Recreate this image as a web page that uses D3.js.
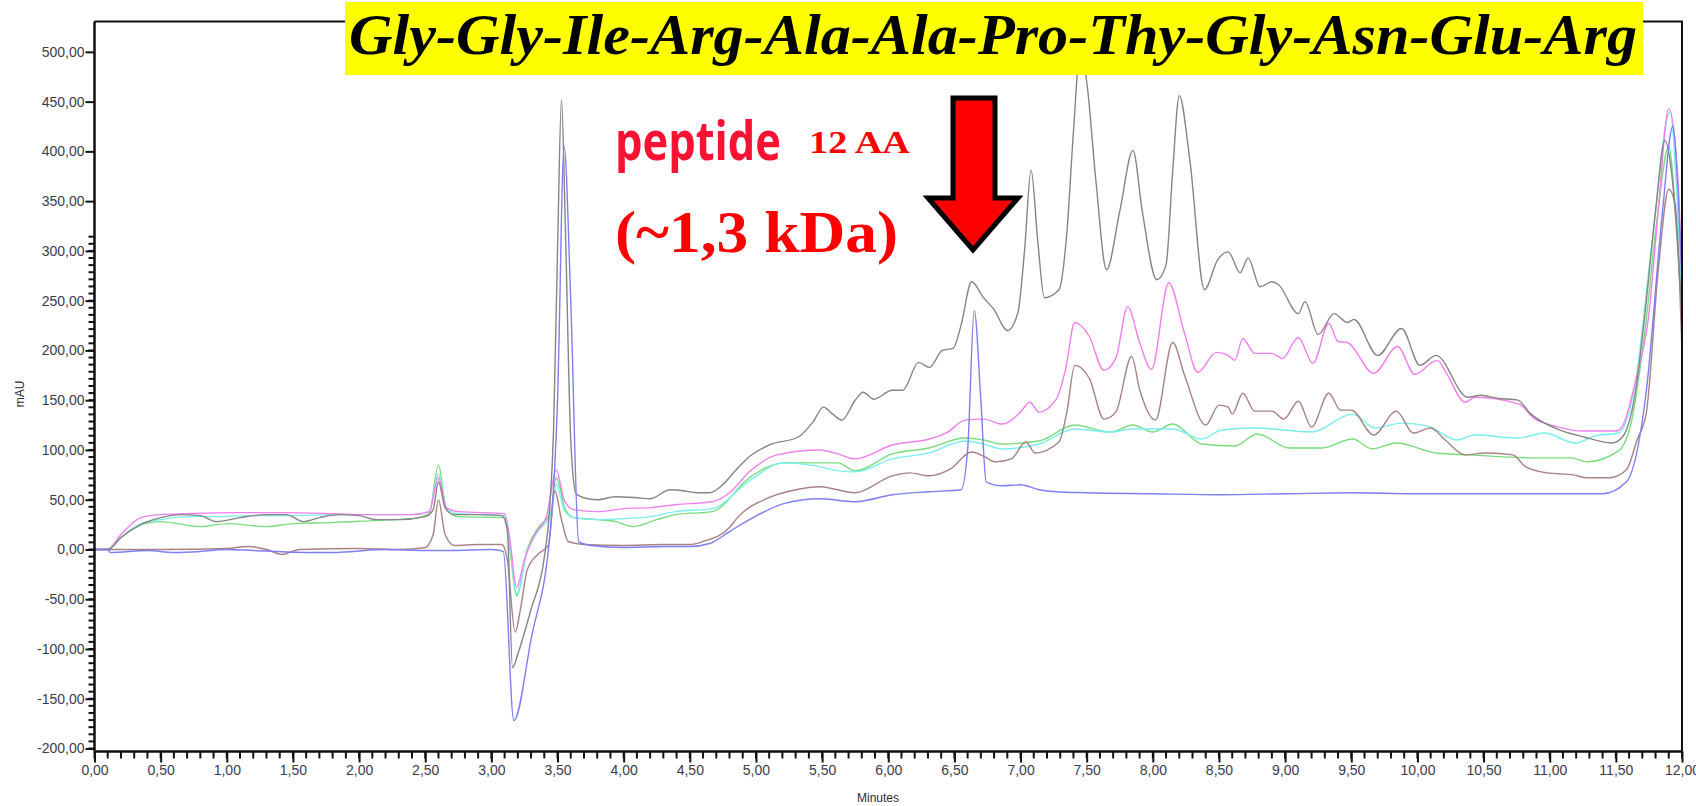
<!DOCTYPE html>
<html>
<head>
<meta charset="utf-8">
<script src="https://cdn.jsdelivr.net/npm/d3@7"></script>
<style>
  body { margin: 0; background: #fff; }
  svg { display: block; }
</style>
</head>
<body>
<div class="chart"></div>
<script>
// chart size and plot frame
const svgWidth = 1696;
const svgHeight = 806;
const frame = { left: 94.5, right: 1682, top: 21.5, bottom: 751.5 };

// axis ticks
const xTicks = d3.range(0, 12.01, 0.5);
const yTicks = d3.range(-200, 501, 50);

// series: [minutes, mAU]
const blackTrace = [[0,0],[0.1,0],[0.2,12],[0.35,25],[0.5,32],[0.65,35],[0.8,34],[0.92,28],[1.1,32],[1.3,35],[1.45,35],[1.58,28],[1.7,32],[1.85,35],[2.0,34],[2.13,30],[2.3,30],[2.5,33],[2.56,40],[2.6,68],[2.65,42],[2.72,35],[2.9,35],[3.08,34],[3.12,20],[3.16,-119],[3.2,-105],[3.3,-60],[3.4,-8],[3.44,40],[3.47,120],[3.5,300],[3.53,452],[3.56,320],[3.6,110],[3.64,56],[3.7,52],[3.8,50],[3.94,53],[4.1,52],[4.2,51],[4.35,60],[4.45,59],[4.55,57],[4.65,57],[4.74,64],[4.85,80],[4.93,91],[5.1,105],[5.32,113],[5.43,128],[5.51,143],[5.58,136],[5.65,130],[5.75,150],[5.81,158],[5.89,151],[6.03,160],[6.11,160],[6.23,188],[6.31,183],[6.41,200],[6.49,202],[6.55,225],[6.63,269],[6.72,253],[6.8,241],[6.9,220],[6.98,238],[7.03,300],[7.08,381],[7.13,310],[7.18,253],[7.29,261],[7.35,318],[7.4,420],[7.45,500],[7.5,470],[7.57,370],[7.65,281],[7.75,340],[7.85,401],[7.92,340],[8.03,271],[8.1,286],[8.15,380],[8.2,456],[8.28,391],[8.39,261],[8.49,291],[8.57,299],[8.66,278],[8.72,293],[8.81,264],[8.9,269],[8.95,266],[9.1,237],[9.15,249],[9.25,216],[9.37,237],[9.47,228],[9.52,231],[9.7,195],[9.88,222],[10.02,185],[10.14,195],[10.38,153],[10.48,155],[10.6,152],[10.76,150],[10.85,137],[11.04,122],[11.26,113],[11.47,107],[11.55,113],[11.65,160],[11.72,237],[11.8,340],[11.87,411],[11.92,380],[11.96,320],[12.0,237]];

const magentaTrace = [[0,0],[0.1,0],[0.2,15],[0.35,32],[0.49,35],[0.7,36],[1.05,37],[1.42,37],[1.8,36],[2.05,35],[2.4,35],[2.53,38],[2.6,72],[2.66,42],[2.75,38],[3.1,36],[3.14,10],[3.19,-38],[3.25,-10],[3.33,15],[3.42,35],[3.49,80],[3.55,50],[3.62,40],[3.8,38],[4.0,41],[4.2,42],[4.39,45],[4.67,48],[4.81,58],[4.95,78],[5.16,95],[5.48,100],[5.62,96],[5.75,91],[6.03,105],[6.31,111],[6.45,118],[6.58,130],[6.72,131],[6.86,126],[7.0,138],[7.07,148],[7.14,138],[7.27,151],[7.34,181],[7.41,228],[7.52,214],[7.63,180],[7.72,192],[7.81,244],[7.9,208],[7.99,181],[8.12,268],[8.24,217],[8.34,178],[8.48,198],[8.57,195],[8.62,190],[8.68,212],[8.77,197],[8.9,197],[8.98,192],[9.1,213],[9.21,187],[9.33,227],[9.4,209],[9.47,208],[9.67,177],[9.85,204],[9.98,176],[10.15,190],[10.22,177],[10.36,148],[10.44,153],[10.77,146],[10.88,132],[11.04,124],[11.26,119],[11.5,119],[11.55,124],[11.65,170],[11.75,237],[11.82,340],[11.9,443],[11.97,371],[12.0,270]];

const cyanTrace = [[0,0],[0.1,0],[0.2,12],[0.35,26],[0.5,30],[0.7,33],[0.9,33],[1.2,34],[1.5,34],[1.8,35],[2.1,35],[2.4,35],[2.53,38],[2.6,76],[2.66,42],[2.75,36],[3.1,34],[3.14,5],[3.19,-45],[3.27,-2],[3.35,18],[3.45,36],[3.49,66],[3.55,40],[3.62,32],[3.8,30],[4.0,31],[4.2,33],[4.39,38],[4.67,41],[4.95,69],[5.21,87],[5.45,84],[5.62,79],[5.75,78],[6.03,91],[6.31,97],[6.58,109],[6.72,106],[6.86,101],[7.14,106],[7.41,121],[7.68,118],[7.85,121],[8.15,121],[8.37,111],[8.52,120],[8.77,122],[9.2,118],[9.51,136],[9.68,122],[9.88,127],[10.08,124],[10.3,110],[10.43,115],[10.76,112],[10.96,117],[11.19,107],[11.34,114],[11.52,117],[11.65,170],[11.77,304],[11.91,440],[11.96,360],[12.0,244]];

const greenTrace = [[0,0],[0.1,0],[0.2,12],[0.35,25],[0.5,28],[0.8,23],[1.0,26],[1.3,23],[1.5,26],[1.8,27],[2.1,29],[2.4,31],[2.53,36],[2.6,85],[2.66,40],[2.75,33],[3.1,32],[3.14,0],[3.19,-47],[3.27,0],[3.35,21],[3.45,38],[3.49,72],[3.56,40],[3.62,32],[3.8,30],[3.94,28],[4.07,23],[4.25,30],[4.39,35],[4.67,38],[4.95,72],[5.21,87],[5.62,87],[5.75,79],[6.03,96],[6.31,102],[6.58,112],[6.72,110],[6.86,106],[7.14,109],[7.41,125],[7.68,118],[7.85,125],[8.0,118],[8.15,126],[8.37,106],[8.62,104],[8.79,116],[9.03,102],[9.28,102],[9.51,111],[9.66,101],[9.84,107],[10.14,97],[10.4,95],[10.9,92],[11.16,92],[11.28,88],[11.52,99],[11.62,130],[11.72,220],[11.81,330],[11.9,405],[11.95,340],[12.0,230]];

const brownTrace = [[0,0],[0.5,0],[1.0,1],[1.16,3],[1.3,0],[1.42,-5],[1.55,0],[2.0,1],[2.3,0],[2.5,2],[2.56,15],[2.6,50],[2.65,15],[2.72,4],[2.9,5],[3.08,5],[3.12,-10],[3.18,-83],[3.22,-60],[3.27,-21],[3.35,-5],[3.43,4],[3.48,59],[3.53,30],[3.58,8],[3.7,5],[4.0,4],[4.3,5],[4.5,5],[4.6,8],[4.8,22],[4.86,32],[5.08,51],[5.3,60],[5.48,63],[5.75,57],[6.03,74],[6.16,77],[6.31,74],[6.47,81],[6.63,98],[6.73,93],[6.81,88],[6.93,91],[7.04,108],[7.11,97],[7.29,108],[7.35,138],[7.41,185],[7.52,172],[7.63,131],[7.72,138],[7.84,194],[7.9,161],[8.02,130],[8.15,208],[8.24,175],[8.4,125],[8.5,145],[8.57,143],[8.6,136],[8.68,157],[8.77,139],[8.9,139],[8.99,131],[9.1,149],[9.2,123],[9.33,157],[9.42,140],[9.5,140],[9.67,115],[9.84,139],[9.97,117],[10.1,122],[10.21,110],[10.36,95],[10.52,97],[10.72,95],[10.82,83],[10.98,77],[11.18,75],[11.28,72],[11.45,72],[11.58,80],[11.66,110],[11.73,137],[11.82,280],[11.9,362],[11.95,345],[12.0,198]];

const blueTrace = [[0,0],[0.1,0],[0.12,-3],[0.4,-1],[0.6,-3],[0.8,-2],[1.0,0],[1.2,-1],[1.6,-3],[1.8,-3],[2.2,0],[2.5,-1],[2.7,-1],[3.0,0],[3.09,-2],[3.17,-172],[3.3,-90],[3.45,25],[3.5,150],[3.55,405],[3.6,250],[3.66,8],[3.75,4],[4.0,2],[4.3,3],[4.5,3],[4.65,6],[4.8,18],[4.95,30],[5.21,46],[5.48,51],[5.75,48],[6.03,55],[6.31,58],[6.55,60],[6.6,100],[6.65,240],[6.7,150],[6.74,68],[6.86,64],[7.0,65],[7.14,60],[7.27,58],[7.5,57],[8.0,56],[8.5,55],[9.0,56],[9.5,57],[10.0,56],[10.5,56],[11.0,56],[11.4,56],[11.58,68],[11.73,159],[11.85,336],[11.93,425],[11.97,360],[12.0,270]];

const traces = [
  { name: "green", values: greenTrace, color: "#78dc7c" },
  { name: "cyan", values: cyanTrace, color: "#78eef0" },
  { name: "magenta", values: magentaTrace, color: "#f27ef0" },
  { name: "brown", values: brownTrace, color: "#a88282" },
  { name: "black", values: blackTrace, color: "#858585" },
  { name: "blue", values: blueTrace, color: "#7e7ef6" }
];

// labels on top of the chart
const sequenceText = "Gly-Gly-Ile-Arg-Ala-Ala-Pro-Thy-Gly-Asn-Glu-Arg";
const peptideText = "peptide";
const aaText = "12 AA";
const massText = "(~1,3 kDa)";

const svg = d3.select(".chart")
  .append("svg")
  .attr("width", svgWidth)
  .attr("height", svgHeight);

const x = d3.scaleLinear().domain([0, 12]).range([frame.left, frame.right]);
const y = d3.scaleLinear().domain([-203, 530.5]).range([frame.bottom, frame.top]);

const comma = v => d3.format(".2f")(v).replace(".", ",").replace("−", "-");

// traces
const line = d3.line()
  .x(d => x(d[0]))
  .y(d => y(d[1]))
  .curve(d3.curveMonotoneX);

svg.append("g")
  .selectAll("path")
  .data(traces)
  .enter()
  .append("path")
  .attr("d", d => line(d.values))
  .attr("fill", "none")
  .attr("stroke", d => d.color)
  .attr("stroke-width", 1.4)
  .attr("stroke-linejoin", "round");

// frame top + right
svg.append("path")
  .attr("d", `M${frame.left},${frame.top}H${frame.right}V${frame.bottom}`)
  .attr("fill", "none")
  .attr("stroke", "#111")
  .attr("stroke-width", 2);

// minor ticks
const yMinor = d3.range(0, 73).map(i => -200 + i * 50 / 7).filter(v => v <= 530);
svg.append("g")
  .selectAll("line")
  .data(yMinor)
  .enter()
  .append("line")
  .attr("x1", frame.left - 6).attr("x2", frame.left)
  .attr("y1", d => y(d)).attr("y2", d => y(d))
  .attr("stroke", "#111").attr("stroke-width", 2);

const xMinor = d3.range(0, 121).map(i => i / 10);
svg.append("g")
  .selectAll("line")
  .data(xMinor)
  .enter()
  .append("line")
  .attr("x1", d => x(d)).attr("x2", d => x(d))
  .attr("y1", frame.bottom).attr("y2", frame.bottom + 7)
  .attr("stroke", "#111").attr("stroke-width", 2);

// axes
const yAxis = svg.append("g")
  .attr("transform", `translate(${frame.left},0)`)
  .call(d3.axisLeft(y).tickValues(yTicks).tickFormat(comma).tickSize(9).tickPadding(1));

const xAxis = svg.append("g")
  .attr("transform", `translate(0,${frame.bottom})`)
  .call(d3.axisBottom(x).tickValues(xTicks).tickFormat(comma).tickSize(11).tickPadding(3));

[xAxis, yAxis].forEach(a => {
  a.select(".domain").attr("stroke", "#111").attr("stroke-width", 2.5);
  a.selectAll(".tick line").attr("stroke", "#111").attr("stroke-width", 2);
  a.selectAll("text")
    .attr("fill", "#3b3b4c")
    .style("font-family", "'Liberation Sans', Arial, sans-serif")
    .style("font-size", "14px");
});
yAxis.select(".domain").attr("d", `M0,${frame.top}V${frame.bottom}`);
xAxis.select(".domain").attr("d", `M${frame.left},0H${frame.right}`);

// axis titles
svg.append("text")
  .attr("x", 878).attr("y", 802)
  .attr("text-anchor", "middle")
  .attr("fill", "#2a2a3a")
  .style("font-family", "'Liberation Sans', Arial, sans-serif")
  .style("font-size", "12px")
  .text("Minutes");

svg.append("text")
  .attr("transform", "translate(24,394) rotate(-90)")
  .attr("text-anchor", "middle")
  .attr("fill", "#2a2a3a")
  .style("font-family", "'Liberation Sans', Arial, sans-serif")
  .style("font-size", "12px")
  .text("mAU");

// yellow sequence banner
svg.append("rect")
  .attr("x", 345).attr("y", 2)
  .attr("width", 1298).attr("height", 73)
  .attr("fill", "#ffff00");

svg.append("text")
  .attr("x", 349).attr("y", 54)
  .attr("textLength", 1288)
  .attr("lengthAdjust", "spacingAndGlyphs")
  .attr("fill", "#000")
  .style("font-family", "'Liberation Serif', 'DejaVu Serif', serif")
  .style("font-weight", "bold")
  .style("font-style", "italic")
  .style("font-size", "58px")
  .text(sequenceText);

// annotation texts
svg.append("text")
  .attr("x", 615).attr("y", 160)
  .attr("textLength", 166)
  .attr("lengthAdjust", "spacingAndGlyphs")
  .attr("fill", "#fa1232")
  .style("font-family", "'Open Sans', 'Noto Sans', sans-serif")
  .style("font-weight", "bold")
  .style("font-size", "54px")
  .text(peptideText);

svg.append("text")
  .attr("x", 809).attr("y", 153)
  .attr("textLength", 101)
  .attr("lengthAdjust", "spacingAndGlyphs")
  .attr("fill", "#ff0000")
  .style("font-family", "'Liberation Serif', serif")
  .style("font-weight", "bold")
  .style("font-size", "32px")
  .text(aaText);

svg.append("text")
  .attr("x", 615).attr("y", 252)
  .attr("textLength", 283)
  .attr("lengthAdjust", "spacingAndGlyphs")
  .attr("fill", "#ff0000")
  .style("font-family", "'Liberation Serif', serif")
  .style("font-weight", "bold")
  .style("font-size", "60px")
  .text(massText);

// down arrow
svg.append("path")
  .attr("d", "M953,98H995V198H1018L973,250L928,198H953Z")
  .attr("fill", "#ff0000")
  .attr("stroke", "#000")
  .attr("stroke-width", 5)
  .attr("stroke-linejoin", "miter");
</script>
</body>
</html>
